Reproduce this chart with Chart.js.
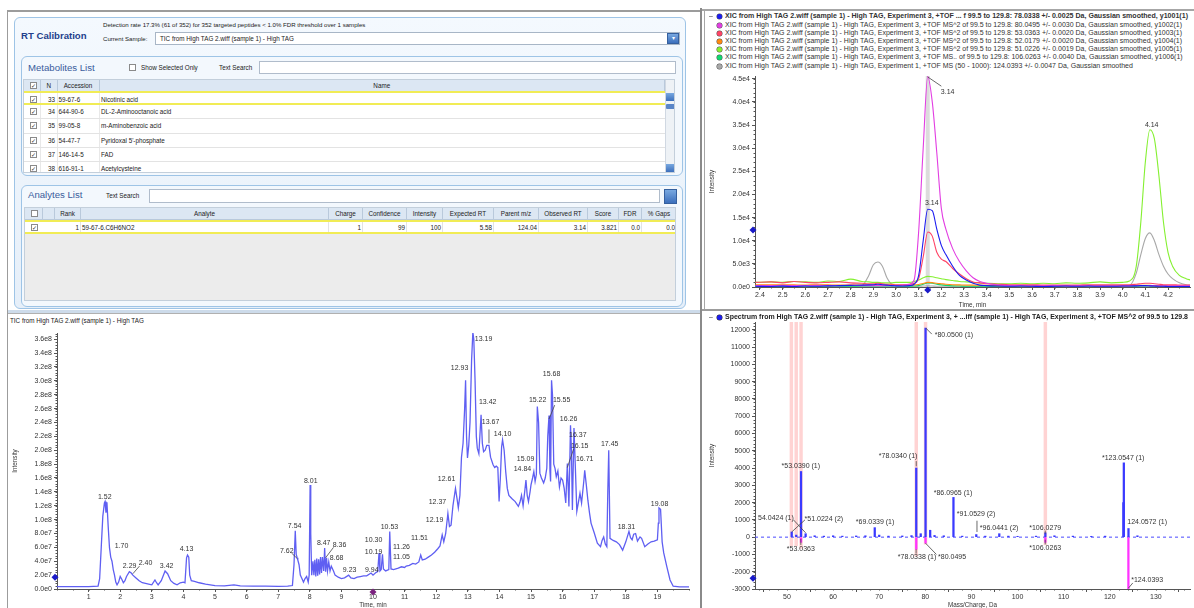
<!DOCTYPE html>
<html>
<head>
<meta charset="utf-8">
<title>RT Calibration</title>
<script src="https://cdn.jsdelivr.net/npm/chart.js@4.4.1/dist/chart.umd.min.js"></script>
<style>
html,body{margin:0;padding:0}
body{width:1194px;height:608px;overflow:hidden;position:relative;background:#fff;font-family:"Liberation Sans",Arial,sans-serif}
.a{position:absolute;box-sizing:border-box}
.t{position:absolute;white-space:nowrap;color:#222;font-size:6.3px;line-height:1}
.cb{position:absolute;width:7px;height:7px;border:1px solid #8a8a8a;background:#fff;box-sizing:border-box;font-family:"DejaVu Sans";font-size:6px;line-height:5px;text-align:center;color:#333;overflow:hidden}
.hd{position:absolute;top:0;height:12px;background:#dce7f3;border-right:1px solid #b9c9db;border-bottom:1px solid #b9c9db;box-sizing:border-box;font-size:6.3px;line-height:11px;text-align:center;color:#222;white-space:nowrap;overflow:hidden}
.panel{border:1.5px solid #9ec4e6;border-radius:6px}
.leg{position:absolute;white-space:nowrap;font-size:6.8px;line-height:1;color:#333}
.dot{position:absolute;width:5px;height:5px;border-radius:50%}
canvas{position:absolute}
</style>
</head>
<body>

<!-- window frame -->
<div class="a" style="left:7px;top:10px;width:694px;height:2px;background:#9c9c9c"></div>
<div class="a" style="left:7px;top:10px;width:1px;height:598px;background:#9c9c9c"></div>

<!-- RT calibration panel -->
<div class="a panel" style="left:14px;top:17px;width:672px;height:292px;background:linear-gradient(#f4f9fe,#e6eff9)"></div>
<div class="t" style="left:21px;top:31px;font-size:9.6px;font-weight:bold;color:#233f8c">RT Calibration</div>
<div class="t" style="left:103px;top:22px;font-size:6.1px">Detection rate 17.3% (61 of 352) for 352 targeted peptides &lt; 1.0% FDR threshold over 1 samples</div>
<div class="t" style="left:103px;top:36px;font-size:6.1px">Current Sample:</div>
<div class="a" style="left:155px;top:32px;width:525px;height:13px;border:1px solid #a8b6c6;background:#fff"></div>
<div class="t" style="left:160px;top:36px">TIC from High TAG 2.wiff (sample 1) - High TAG</div>
<div class="a" style="left:667px;top:33px;width:12px;height:11px;background:linear-gradient(#78a8e0,#3c6fbc);border:1px solid #35609e;color:#fff;font-size:6px;line-height:9px;text-align:center">&#9662;</div>

<div class="a panel" style="left:21px;top:56px;width:662px;height:120px;background:#f3f8fd"></div>
<div class="t" style="left:28px;top:63px;font-size:9.6px;color:#3a5c9c">Metabolites List</div>
<div class="cb" style="left:129px;top:64px"></div>
<div class="t" style="left:141px;top:65px">Show Selected Only</div>
<div class="t" style="left:219px;top:65px">Text Search</div>
<div class="a" style="left:259px;top:61px;width:417px;height:13px;border:1px solid #b0bccb;background:#fff"></div>

<div class="a panel" style="left:21px;top:185px;width:662px;height:122px;background:#f3f8fd"></div>
<div class="t" style="left:28px;top:190px;font-size:9.6px;color:#3a5c9c">Analytes List</div>
<div class="t" style="left:106px;top:193px">Text Search</div>
<div class="a" style="left:149px;top:189px;width:511px;height:14px;border:1px solid #b0bccb;background:#fff"></div>
<div class="a" style="left:664px;top:189px;width:13px;height:15px;background:linear-gradient(#78a8e0,#3c6fbc);border:1px solid #35609e"></div>

<div class="t" id="ticTitle" style="left:10px;top:318px;font-size:6.3px">TIC from High TAG 2.wiff (sample 1) - High TAG</div>

<canvas id="xic" width="494" height="240" style="left:700px;top:70px"></canvas>
<canvas id="tic" width="686" height="285" style="left:8px;top:326px"></canvas>
<canvas id="spec" width="494" height="291" style="left:700px;top:318px"></canvas>

<!-- separators over the canvases -->
<div class="a" style="left:700px;top:8px;width:2px;height:600px;background:#8a8a8a"></div>
<div class="a" style="left:702px;top:9px;width:492px;height:2px;background:#a6a6a6"></div>
<div class="a" style="left:704px;top:9px;width:1px;height:300px;background:#a6a6a6"></div>
<div class="a" style="left:702px;top:309px;width:492px;height:2px;background:#9c9c9c"></div>
<div class="a" style="left:8px;top:310px;width:692px;height:3px;background:#cddbea"></div>
<div class="a" style="left:8px;top:313px;width:692px;height:1px;background:#b0b0b0"></div>

<script>
// ---------- table contents ----------
const metaN = [33, 34, 35, 36, 37, 38];
const metaAccession = ['59-67-6', '644-90-6', '99-05-8', '54-47-7', '146-14-5', '616-91-1'];
const metaName = ['Nicotinic acid', 'DL-2-Aminooctanoic acid', 'm-Aminobenzoic acid', "Pyridoxal 5'-phosphate", 'FAD', 'Acetylcysteine'];
const analyteHeaders = ['', '', 'Rank', 'Analyte', 'Charge', 'Confidence', 'Intensity', 'Expected RT', 'Parent m/z', 'Observed RT', 'Score', 'FDR', '% Gaps'];
const analyteRow = ['', '', '1', '59-67-6.C6H6NO2', '1', '99', '100', '5.58', '124.04', '3.14', '3.821', '0.0', '0.0'];

// ---------- XIC (top right) ----------
const xicNames = [
  'XIC from High TAG 2.wiff (sample 1) - High TAG, Experiment 3, +TOF ... f 99.5 to 129.8: 78.0338 +/- 0.0025 Da, Gaussian smoothed, y1001(1)',
  'XIC from High TAG 2.wiff (sample 1) - High TAG, Experiment 3, +TOF MS^2 of 99.5 to 129.8: 80.0495 +/- 0.0030 Da, Gaussian smoothed, y1002(1)',
  'XIC from High TAG 2.wiff (sample 1) - High TAG, Experiment 3, +TOF MS^2 of 99.5 to 129.8: 53.0363 +/- 0.0020 Da, Gaussian smoothed, y1003(1)',
  'XIC from High TAG 2.wiff (sample 1) - High TAG, Experiment 3, +TOF MS^2 of 99.5 to 129.8: 52.0179 +/- 0.0020 Da, Gaussian smoothed, y1004(1)',
  'XIC from High TAG 2.wiff (sample 1) - High TAG, Experiment 3, +TOF MS^2 of 99.5 to 129.8: 51.0226 +/- 0.0019 Da, Gaussian smoothed, y1005(1)',
  'XIC from High TAG 2.wiff (sample 1) - High TAG, Experiment 3, +TOF MS.. of 99.5 to 129.8: 106.0263 +/- 0.0040 Da, Gaussian smoothed, y1006(1)',
  'XIC from High TAG 2.wiff (sample 1) - High TAG, Experiment 1, +TOF MS (50 - 1000): 124.0393 +/- 0.0047 Da, Gaussian smoothed'
];
const xicColors = ['#1c1cf0', '#e23ee2', '#ff4466', '#ff8a10', '#84f030', '#10d870', '#a8a8a8'];
const xicTime = [2.38,2.45,2.5,2.55,2.6,2.65,2.7,2.75,2.8,2.85,2.88,2.9,2.92,2.94,2.96,2.98,3.0,3.03,3.06,3.08,
  3.10,3.12,3.14,3.16,3.18,3.20,3.22,3.25,3.28,3.31,3.34,3.37,3.40,
  3.45,3.5,3.55,3.6,3.65,3.7,3.75,3.8,3.85,3.9,3.95,4.0,
  4.03,4.06,4.08,4.10,4.12,4.14,4.16,4.18,4.20,4.22,4.25,4.28,4.30];
const xic78 = [150,120,180,100,200,150,250,300,350,400,450,500,600,500,400,300,250,200,300,600,
  2500,10000,16800,16500,12500,9000,7000,4500,2500,1500,800,400,300,
  200,150,200,150,100,150,200,150,200,150,150,200,
  200,250,300,300,250,200,150,150,100,100,100,100,100];
const xic80 = [300,300,350,300,300,350,300,300,350,300,300,300,300,300,300,300,300,400,600,1500,
  12000,30000,45500,40000,29000,17000,12500,8300,5500,3500,2000,1200,800,
  400,300,300,250,250,300,250,250,300,250,250,250,
  250,300,300,300,300,300,250,250,250,250,250,250,250];
const xic53 = [1000,1100,900,1200,1000,900,1000,1100,900,800,700,700,800,700,600,600,500,500,600,800,
  1800,6500,11900,11000,7500,6000,5500,4000,2800,1800,1100,900,700,
  600,500,500,500,400,400,400,400,500,500,500,500,
  500,600,700,800,800,700,600,500,500,500,400,400,400];
const xic52 = [500,450,500,450,400,500,450,400,450,400,400,400,400,400,400,400,350,350,400,450,
  550,750,1000,950,800,700,600,500,450,400,400,350,350,
  300,300,300,300,300,300,300,300,300,300,300,300,
  300,350,350,350,350,300,300,300,300,300,300,300,300];
const xic51 = [1000,1100,1000,1200,1100,1000,1300,1200,1700,1200,1100,1000,1000,900,900,900,1000,1000,1000,1200,
  1500,2000,2300,2200,2000,1800,1600,1400,1200,1100,1000,900,800,
  700,700,800,700,800,700,900,800,900,1100,900,1000,
  1300,4500,14000,27000,34000,32000,24000,14000,7500,4500,2500,1800,1500];
const xic106 = [150,150,150,150,150,150,150,150,150,150,150,150,150,150,150,150,150,150,150,200,
  300,600,900,800,600,450,350,250,200,150,150,150,150,
  120,120,100,100,120,100,100,120,100,100,120,100,
  100,120,150,150,150,120,100,100,100,100,100,100,100];
const xic124 = [100,100,100,100,100,100,100,100,100,300,2500,4800,5400,4500,2000,600,200,150,150,150,
  150,200,250,200,150,150,150,150,150,100,100,100,100,
  100,100,100,100,100,100,100,100,100,100,100,100,
  300,3000,7000,10500,11700,10000,7000,4500,2800,1800,900,500,400];
const xicSeriesValues = [xic78, xic80, xic53, xic52, xic51, xic106, xic124];
const xicXTicks = [2.4,2.5,2.6,2.7,2.8,2.9,3.0,3.1,3.2,3.3,3.4,3.5,3.6,3.7,3.8,3.9,4.0,4.1,4.2];
const xicYTicks = [0,5000,10000,15000,20000,25000,30000,35000,40000,45000];
const xicPeakLabels = [['3.14', 3.228, 42200], ['3.14', 3.158, 18100], ['4.14', 4.128, 35100]];
const xicLeaders = [[3.14, 45400, 3.2, 43400]];

// ---------- TIC (bottom left), intensity in units of 1e7 ----------
const ticTime = [
  0,0.5,1.0,1.3,1.35,1.4,1.45,1.5,1.52,1.55,1.58,1.62,1.66,1.70,1.74,1.78,1.82,1.86,1.9,1.95,2.0,
  2.05,2.1,2.15,2.2,2.29,2.35,2.4,2.5,2.6,2.7,2.8,2.9,3.0,3.1,3.15,3.2,3.3,3.42,3.5,3.6,3.7,3.8,3.9,4.0,4.05,
  4.1,4.13,4.17,4.2,4.25,4.35,4.5,4.7,5.0,5.3,5.6,5.8,6.2,6.6,7.0,7.3,7.45,
  7.5,7.54,7.57,7.6,7.62,7.66,7.7,7.75,7.8,7.85,7.9,7.95,7.98,8.01,
  8.03,8.06,8.1,8.13,8.16,8.19,8.22,8.25,8.28,8.31,8.34,8.37,8.40,8.44,8.47,8.5,8.53,8.56,8.6,8.64,8.68,8.75,
  8.8,8.9,9.0,9.1,9.23,9.3,9.4,9.5,9.6,9.7,9.8,9.94,10.0,10.1,10.15,10.19,10.22,10.26,10.30,10.33,10.4,10.5,10.53,10.57,10.65,
  10.8,10.9,11.0,11.05,11.15,11.26,11.35,11.45,11.51,11.56,11.65,11.75,11.85,11.95,12.05,12.12,12.19,12.24,12.3,12.37,12.42,12.47,
  12.53,12.61,12.66,12.7,12.75,12.8,12.85,12.9,12.93,12.96,12.99,13.03,13.07,13.12,13.16,13.19,13.23,13.27,13.3,13.35,13.42,13.46,13.5,
  13.55,13.6,13.67,13.72,13.8,13.85,13.9,13.95,13.99,14.03,14.07,14.1,14.15,14.2,14.25,14.3,14.4,14.5,14.6,14.65,14.7,14.75,
  14.8,14.84,14.88,14.92,14.97,15.0,15.05,15.09,15.13,15.17,15.2,15.24,15.28,15.33,15.4,15.45,15.5,15.53,15.57,15.6,15.62,15.65,15.68,15.72,15.76,
  15.8,15.85,15.9,15.95,16.0,16.05,16.1,16.15,16.2,16.25,16.28,16.31,16.36,16.4,16.45,16.5,16.55,16.6,16.67,16.7,16.75,16.8,16.85,16.9,
  17.0,17.1,17.2,17.25,17.3,17.35,17.4,17.43,17.46,17.5,17.6,17.7,17.8,17.9,18.0,18.1,18.15,18.2,
  18.25,18.31,18.37,18.45,18.5,18.6,18.7,18.8,18.9,19.0,19.03,19.05,19.1,19.15,19.2,19.3,19.4,19.5,19.7,20.0];
const ticTotal = [
  0.35,0.35,0.35,0.4,1.5,6,10.5,12.4,12.6,11.0,12.5,9,6,4.6,4.0,2.8,2.0,1.0,0.6,1.0,1.8,
  1.4,0.9,1.2,1.8,2.5,2.3,2.0,1.6,1.2,0.9,0.8,0.7,0.6,1.3,0.9,0.6,1.2,2.6,2.2,1.2,0.8,0.6,0.9,1.0,0.9,
  4.5,4.9,4.6,2.0,1.2,1.1,0.9,0.7,0.5,0.45,0.6,0.45,0.4,0.4,0.38,0.4,0.5,
  3.5,8.4,5.0,4.5,4.2,3.5,2.0,1.5,1.0,1.5,1.8,1.0,2.0,15.0,
  8.0,2.0,4.0,2.0,4.2,1.8,4.4,1.9,4.3,2.1,4.6,2.3,4.6,2.6,5.9,2.5,4.5,2.6,3.9,2.6,3.3,2.6,
  2.0,1.7,1.5,1.6,2.0,1.6,1.5,1.7,1.8,1.9,1.9,2.3,2.0,2.4,2.5,5.2,2.6,2.8,5.0,2.9,2.6,2.8,8.3,2.9,2.8,
  3.0,3.2,3.1,3.3,3.4,3.7,3.6,3.9,4.9,4.2,4.3,4.6,4.9,5.3,5.8,6.2,7.8,6.8,8.0,10.9,9.0,9.2,
  12.0,14.5,13.0,11.7,13.5,19.0,21.0,26.0,30.1,22.0,18.9,20.7,24.0,33.0,37.0,36.0,30.0,22.0,20.3,19.5,25.1,21.0,19.8,
  20.0,20.7,20.7,19.0,17.9,17.5,17.7,17.5,12.6,16.0,20.5,21.5,20.0,16.9,14.5,13.5,13.0,12.6,11.9,12.5,13.5,12.0,
  14.0,15.7,13.5,12.6,14.0,15.0,16.0,16.9,15.5,16.5,26.3,24.0,16.7,16.0,15.3,16.0,17.4,22.0,25.0,17.0,15.5,30.1,28.0,18.0,17.4,
  16.2,17.0,14.7,16.0,15.7,14.5,12.4,18.1,11.9,23.6,20.0,11.4,23.2,18.0,11.2,12.5,13.8,12.4,15.5,17.1,15.0,12.8,11.0,9.5,
  8.1,6.6,6.1,7.0,7.5,6.5,6.1,14.0,20.0,7.3,7.0,6.8,6.4,5.6,6.8,8.3,7.4,7.1,
  7.9,8.0,6.9,7.5,7.3,6.1,6.5,6.8,6.9,7.1,9.5,11.7,11.5,6.8,5.2,3.2,1.3,0.4,0.3,0.3];
const ticXTicks = [1,2,3,4,5,6,7,8,9,10,11,12,13,14,15,16,17,18,19];
const ticYTicks = [0,2,4,6,8,10,12,14,16,18,20,22,24,26,28,30,32,34,36];
const ticPeakLabels = [
  ['1.52',1.51,13.2],['1.70',2.04,6.2],['2.29',2.30,3.3],['2.40',2.80,3.7],['3.42',3.47,3.3],['4.13',4.10,5.8],
  ['7.54',7.52,9.1],['7.62',7.27,5.5],['8.01',8.03,15.6],['8.47',8.44,6.6],['8.36',8.94,6.3],['8.68',8.85,4.5],
  ['9.23',9.26,2.7],['9.94',9.96,2.7],['10.30',10.02,7.1],['10.19',10.02,5.3],['10.53',10.52,8.9],['11.26',10.90,6.0],
  ['11.05',10.90,4.6],['11.51',11.47,7.3],['12.19',11.95,9.9],['12.37',12.04,12.5],['12.61',12.33,15.8],['12.93',12.74,31.8],
  ['13.19',13.5,36.0],['13.42',13.63,26.9],['13.67',13.72,24.0],['14.10',14.10,22.3],['15.09',14.83,18.7],['14.84',14.73,17.3],
  ['15.22',15.21,27.2],['15.68',15.65,31.0],['15.55',15.97,27.2],['16.26',16.19,24.5],['16.37',16.48,22.2],['16.15',16.54,20.6],
  ['16.71',16.70,18.7],['17.45',17.49,20.9],['18.31',18.02,8.9],['19.08',19.07,12.2]];
const ticLeaders = [[2.61,3.3,2.40,2.2],[15.75,26.5,15.57,24.5],[16.35,20.2,16.15,17.5],[8.75,6.0,8.5,4.5],[13.67,21.0,13.67,23.0],[7.42,5.2,7.6,4.4]];

// ---------- spectrum (bottom right) ----------
const specMz  = [51.02,52.0,53.04,54.04,56.0,58.0,60.0,62.0,65.0,67.0,69.03,70.0,72.0,75.0,77.0,78.03,79.0,80.05,81.05,82.0,84.0,86.10,88.0,91.05,93.0,96.04,98.0,100.0,104.0,106.03,108.0,112.0,116.0,119.0,122.95,123.05,124.06,126.0];
const specInt = [300,120,3800,200,80,60,80,60,70,80,550,120,60,70,90,4000,200,12100,400,100,80,2300,60,150,60,200,60,50,60,250,80,60,50,60,2000,4300,500,80];
const mirrorMz  = [53.04, 78.03, 80.05, 106.03, 124.04];
const mirrorInt = [-300, -700, -350, -300, -3300];
const matchMz  = [50.95, 52.0, 53.05, 78.03, 80.05, 106.03];
const matchLow = [-500, -500, -650, -1100, -400, -450];
const specXTicks = [50,60,70,80,90,100,110,120,130];
const specYTicks = [-3000,-2000,-1000,0,1000,2000,3000,4000,5000,6000,7000,8000,9000,10000,11000,12000];
const specLabels = [
  ['*80.0500 (1)',86.2,11710],['*78.0340 (1)',74.1,4700],['*53.0390 (1)',53.0,4120],['*86.0965 (1)',86.0,2550],
  ['*91.0529 (2)',91.0,1330],['*96.0441 (2)',96.0,520],['*106.0279',106.0,520],['*123.0547 (1)',122.9,4580],
  ['124.0572 (1)',128.1,870],['54.0424 (1)',47.6,1100],['*51.0224 (2)',58.0,1040],['*69.0339 (1)',69.1,870],
  ['*53.0363',53.0,-700],['*78.0338 (1)',78.2,-1160],['*80.0495',85.8,-1160],['*106.0263',106.0,-640],['*124.0393',128.1,-2490]];
const specLeaders = [[51.4,1000,54.04,250],[53.9,1000,51.02,300],[80.1,12100,81.4,11750],[80.05,-350,82.4,-1000],
  [124.04,-2950,125.0,-2650],[91.2,300,91.2,950],[53.0,-100,53.0,-450],[78.0,-700,78.0,-950],[106.0,-150,106.0,-420],[106.0,200,106.0,380],[78.03,4100,78.03,4400]];

// ---------- helpers ----------
function add(parent, cls, css, text) {
  const d = document.createElement('div');
  if (cls) d.className = cls;
  d.style.cssText = css;
  if (text != null) d.textContent = text;
  parent.appendChild(d);
  return d;
}
function fitText(el, w) {
  const m = el.getBoundingClientRect().width;
  el.style.transformOrigin = 'left center';
  el.style.transform = 'scaleX(' + (w / m) + ')';
  return w / m;
}
function sci(v) {
  if (v === 0) return '0.0e0';
  const e = Math.floor(Math.log10(Math.abs(v)) + 1e-9);
  return (v / Math.pow(10, e)).toFixed(1) + 'e' + e;
}

// ---------- tables ----------
const metaCols = [0, 17, 33.5, 75.5, 641];
const mt = add(document.body, 'a', 'left:23px;top:79px;width:652px;height:94px;background:#fff;border:1px solid #c3cfdb;overflow:hidden');
['', 'N', 'Accession', 'Name'].forEach((h, i) => add(mt, 'hd', `left:${metaCols[i]}px;width:${metaCols[i + 1] - metaCols[i]}px`, h));
add(mt, 'cb', 'left:6px;top:2px', '\u2713');
add(mt, 'a', 'left:641px;top:0;width:11px;height:94px;background:#eef2f6;border-left:1px solid #d0d8e2');
add(mt, 'a', 'left:642px;top:13px;width:9px;height:8px;background:linear-gradient(#78a8e0,#3c6fbc)');
add(mt, 'a', 'left:642px;top:24px;width:9px;height:5px;background:#5a86c8;border-radius:1px');
add(mt, 'a', 'left:642px;top:84px;width:9px;height:8px;background:linear-gradient(#78a8e0,#3c6fbc)');
[17, 33.5, 75.5].forEach(x => add(mt, 'a', `left:${x - 1}px;top:12px;width:1px;height:82px;background:#e8e8e8`));
metaN.forEach((n, i) => {
  const top = 11 + i * 14.2;
  const r = add(mt, 'a', `left:0;top:${top}px;width:641px;height:14.2px;border-bottom:1px solid #e3e3e3;` +
    (i === 0 ? 'border-top:2px solid #f1ec55;border-bottom:2px solid #f1ec55;' : ''));
  add(r, 'cb', 'left:6px;top:3px', '\u2713');
  add(r, 't', 'left:17px;width:14px;text-align:right;top:4px', String(n));
  add(r, 't', 'left:34.5px;top:4px', metaAccession[i]);
  add(r, 't', 'left:77px;top:4px', metaName[i]);
});

const anaCols = [0, 18, 30, 56, 304, 338, 382, 418, 469, 514, 563, 594, 617, 652];
const at = add(document.body, 'a', 'left:24px;top:207px;width:652px;height:94px;background:#ececec;border:1px solid #c3cfdb;overflow:hidden');
analyteHeaders.forEach((h, i) => add(at, 'hd', `left:${anaCols[i]}px;width:${anaCols[i + 1] - anaCols[i]}px`, h));
add(at, 'cb', 'left:6px;top:2px', '');
const ar = add(at, 'a', 'left:0;top:12px;width:652px;height:14px;background:#fff;border-top:2px solid #f1ec55;border-bottom:2px solid #f1ec55');
add(ar, 'cb', 'left:6px;top:2px', '\u2713');
analyteRow.forEach((v, i) => {
  if (i < 2) return;
  const w = anaCols[i + 1] - anaCols[i];
  add(ar, 't', `left:${anaCols[i] + 1}px;width:${w - 3}px;top:3px;text-align:${i === 3 ? 'left' : 'right'}`, v);
  add(ar, 'a', `left:${anaCols[i + 1] - 1}px;top:0;width:1px;height:10px;background:#e3e3e3`);
});

// ---------- legends ----------
const legEls = xicNames.map((name, i) => {
  add(document.body, 'dot', `left:717px;top:${14.3 + i * 8.2}px;background:${xicColors[i]};box-shadow:0 0 0 0.5px #555`);
  return add(document.body, 'leg', `left:725px;top:${13.4 + i * 8.2}px;font-weight:${i === 0 ? 'bold' : 'normal'}`, name);
});
add(document.body, 'leg', 'left:709px;top:13px', '\u2013');
const k = legEls[1].getBoundingClientRect().width;
const sx = 457 / k;
legEls.forEach((el, i) => { el.style.transformOrigin = 'left center'; el.style.transform = `scaleX(${i === 0 ? 463 / el.getBoundingClientRect().width : sx})`; });

add(document.body, 'leg', 'left:709px;top:313.5px', '\u2013');
add(document.body, 'dot', 'left:717px;top:314.5px;background:#1c1cf0;box-shadow:0 0 0 0.5px #333');
const specLeg = add(document.body, 'leg', 'left:725px;top:313.8px;font-weight:bold;color:#222',
  'Spectrum from High TAG 2.wiff (sample 1) - High TAG, Experiment 3, + ...iff (sample 1) - High TAG, Experiment 3, +TOF MS^2 of 99.5 to 129.8');
fitText(specLeg, 463);

// ---------- chart setup ----------
Chart.defaults.font.family = '"Liberation Sans", Arial, sans-serif';
Chart.defaults.font.size = 7;
Chart.defaults.color = '#333';
Chart.defaults.animation = false;

function axis(o) {
  return {
    type: 'linear', min: o.min, max: o.max, offset: false,
    afterBuildTicks: s => { s.ticks = o.ticks.map(v => ({ value: v })); },
    afterFit: s => {
      if (o.width != null) s.width = o.width;
      if (o.height != null) s.height = o.height;
      s.paddingTop = s.paddingBottom = s.paddingLeft = s.paddingRight = 0;
    },
    ticks: { autoSkip: false, maxRotation: 0, padding: o.pad, callback: o.fmt, font: { size: 7 }, color: '#333' },
    grid: { drawOnChartArea: false, drawTicks: true, tickLength: 3, color: '#555' },
    border: { color: '#555' },
    title: { display: true, text: o.title, font: { size: 6.3 }, color: '#333', padding: o.titlePad }
  };
}

const overlay = {
  id: 'overlay',
  beforeDatasetsDraw(chart, args, o) {
    const { ctx, chartArea: a, scales: { x } } = chart;
    if (o.cursor != null) {
      ctx.save();
      ctx.fillStyle = '#dcdcdc';
      ctx.fillRect(x.getPixelForValue(o.cursor) - 2, a.top, 4, a.bottom - a.top);
      ctx.restore();
    }
  },
  afterDraw(chart, args, o) {
    const { ctx, chartArea: a, scales: { x, y } } = chart;
    ctx.save();
    ctx.strokeStyle = '#555';
    ctx.lineWidth = 1;
    if (o.minorX) {
      for (let i = Math.ceil(x.min / o.minorX); i * o.minorX <= x.max; i++) {
        const px = Math.round(x.getPixelForValue(i * o.minorX)) + 0.5;
        ctx.beginPath(); ctx.moveTo(px, a.bottom); ctx.lineTo(px, a.bottom + 1.5); ctx.stroke();
      }
    }
    if (o.minorY) {
      for (let i = Math.ceil(y.min / o.minorY); i * o.minorY <= y.max; i++) {
        const py = Math.round(y.getPixelForValue(i * o.minorY)) + 0.5;
        ctx.beginPath(); ctx.moveTo(a.left - 1.5, py); ctx.lineTo(a.left, py); ctx.stroke();
      }
    }
    ctx.strokeStyle = '#444';
    ctx.lineWidth = 0.8;
    (o.leaders || []).forEach(([x1, y1, x2, y2]) => {
      ctx.beginPath();
      ctx.moveTo(x.getPixelForValue(x1), y.getPixelForValue(y1));
      ctx.lineTo(x.getPixelForValue(x2), y.getPixelForValue(y2));
      ctx.stroke();
    });
    ctx.font = '7px "Liberation Sans", Arial';
    ctx.fillStyle = '#333';
    ctx.textAlign = 'center';
    ctx.textBaseline = 'middle';
    (o.texts || []).forEach(([s, vx, vy]) => ctx.fillText(s, x.getPixelForValue(vx), y.getPixelForValue(vy)));
    const diamond = (px, py, c) => {
      ctx.fillStyle = c;
      ctx.beginPath();
      ctx.moveTo(px, py - 3.5); ctx.lineTo(px + 3.5, py); ctx.lineTo(px, py + 3.5); ctx.lineTo(px - 3.5, py);
      ctx.closePath(); ctx.fill();
    };
    if (o.yMark != null) diamond(a.left - 2, y.getPixelForValue(o.yMark), '#1a1ac8');
    if (o.xMark != null) diamond(x.getPixelForValue(o.xMark), a.bottom + 3, o.xMarkColor || '#1a1ac8');
    ctx.restore();
  }
};

// XIC
new Chart(document.getElementById('xic'), {
  type: 'scatter',
  data: {
    datasets: xicSeriesValues.map((vals, i) => ({
      label: xicNames[i],
      data: xicTime.map((t, j) => ({ x: t, y: vals[j] })),
      showLine: true, borderColor: xicColors[i], borderWidth: 1.1, pointRadius: 0,
      cubicInterpolationMode: 'monotone'
    }))
  },
  options: {
    responsive: false,
    layout: { padding: { top: 6, right: 4, left: 0, bottom: 0 } },
    plugins: {
      legend: { display: false }, tooltip: { enabled: false },
      overlay: { cursor: 3.14, minorX: 0.05, minorY: 1000, texts: xicPeakLabels, leaders: xicLeaders, yMark: 12300, xMark: 3.14 }
    },
    scales: {
      x: axis({ min: 2.378, max: 4.297, ticks: xicXTicks, fmt: v => v.toFixed(1), title: 'Time, min', height: 23, pad: 1, titlePad: { top: 0, bottom: 1 } }),
      y: axis({ min: 0, max: 45600, ticks: xicYTicks, fmt: v => sci(v), title: 'Intensity', width: 55, pad: 2, titlePad: { top: 8, bottom: 0 } })
    }
  },
  plugins: [overlay]
});

// TIC
new Chart(document.getElementById('tic'), {
  type: 'scatter',
  data: {
    datasets: [{
      label: 'TIC from High TAG 2.wiff (sample 1) - High TAG',
      data: ticTime.map((t, j) => ({ x: t, y: ticTotal[j] })),
      showLine: true, borderColor: '#5f5ff2', borderWidth: 1.3, pointRadius: 0
    }]
  },
  options: {
    responsive: false,
    layout: { padding: { top: 7, right: 5, left: 0, bottom: 0 } },
    plugins: {
      legend: { display: false }, tooltip: { enabled: false },
      overlay: { minorX: 0.5, minorY: 0.4, texts: ticPeakLabels, leaders: ticLeaders, yMark: 1.7, xMark: 10.0, xMarkColor: '#7a237f' }
    },
    scales: {
      x: axis({ min: 0, max: 20, ticks: ticXTicks, fmt: v => String(v), title: 'Time, min', height: 22, pad: 1, titlePad: { top: 0, bottom: 2 } }),
      y: axis({ min: 0, max: 36.9, ticks: ticYTicks, fmt: v => sci(v * 1e7), title: 'Intensity', width: 49, pad: 2, titlePad: { top: 3, bottom: 0 } })
    }
  },
  plugins: [overlay]
});

// Spectrum
new Chart(document.getElementById('spec'), {
  type: 'bar',
  data: {
    datasets: [
      { label: 'experimental', data: specMz.map((m, j) => ({ x: m, y: specInt[j] })), backgroundColor: '#3a3aff', barThickness: 1.6, grouped: false },
      { label: 'library', data: mirrorMz.map((m, j) => ({ x: m, y: mirrorInt[j] })), backgroundColor: '#ff33ff', barThickness: 1.6, grouped: false },
      { type: 'line', label: 'baseline', data: [{ x: 43.06, y: 0 }, { x: 137.4, y: 0 }], borderColor: '#4a4aff', borderWidth: 1, borderDash: [3, 3], pointRadius: 0 },
      { label: 'matched', data: matchMz.map((m, j) => ({ x: m, y: [matchLow[j], 12450] })), backgroundColor: 'rgba(255,140,140,0.38)', barThickness: 2.8, grouped: false }
    ]
  },
  options: {
    responsive: false,
    layout: { padding: { top: 4, right: 4, left: 0, bottom: 0 } },
    plugins: {
      legend: { display: false }, tooltip: { enabled: false },
      overlay: { minorX: 2, minorY: 200, texts: specLabels, leaders: specLeaders, yMark: -2380 }
    },
    scales: {
      x: axis({ min: 43.06, max: 137.4, ticks: specXTicks, fmt: v => String(v), title: 'Mass/Charge, Da', height: 20, pad: 1, titlePad: { top: 0, bottom: 0 } }),
      y: axis({ min: -3000, max: 12450, ticks: specYTicks, fmt: v => String(v), title: 'Intensity', width: 55, pad: 2, titlePad: { top: 8, bottom: 0 } })
    }
  },
  plugins: [overlay]
});
</script>
</body>
</html>
